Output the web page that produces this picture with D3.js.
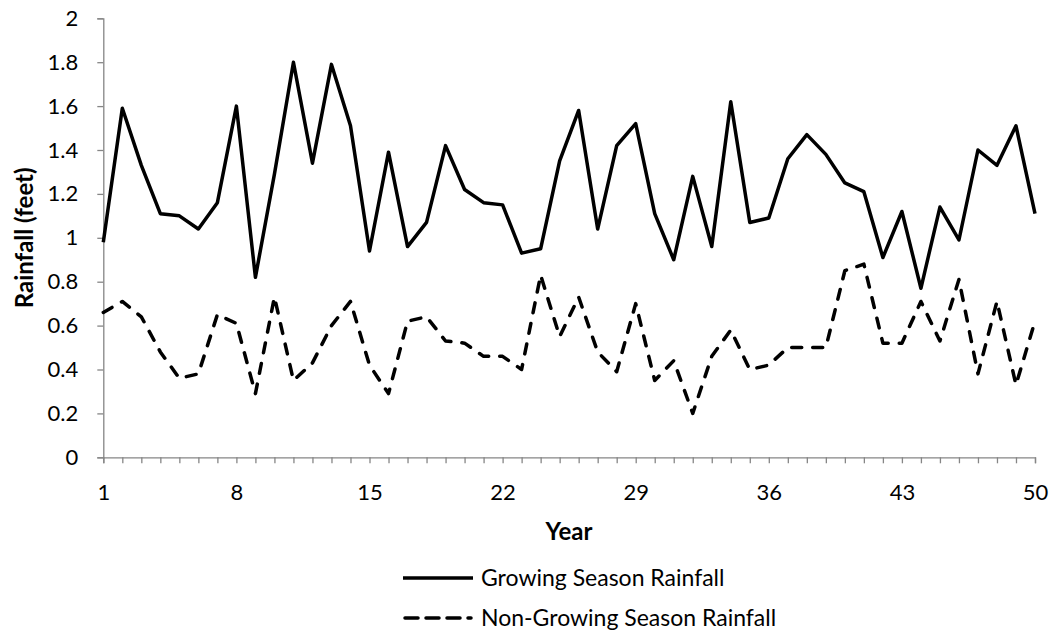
<!DOCTYPE html>
<html>
<head>
<meta charset="utf-8">
<script src="https://cdn.jsdelivr.net/npm/d3@7"></script>
<style>
  html, body { margin: 0; padding: 0; background: #fff; }
  svg { display: block; font-family: Lato, "Open Sans", sans-serif; }
</style>
</head>
<body>
<svg id="chart" width="1053" height="632"></svg>
<script>
// Annual rainfall over 50 years, split by season
const years = d3.range(1, 51);
const growingSeason = [
  0.98, 1.59, 1.33, 1.11, 1.10, 1.04, 1.16, 1.60, 0.82, 1.29,
  1.80, 1.34, 1.79, 1.51, 0.94, 1.39, 0.96, 1.07, 1.42, 1.22,
  1.16, 1.15, 0.93, 0.95, 1.35, 1.58, 1.04, 1.42, 1.52, 1.11,
  0.90, 1.28, 0.96, 1.62, 1.07, 1.09, 1.36, 1.47, 1.38, 1.25,
  1.21, 0.91, 1.12, 0.77, 1.14, 0.99, 1.40, 1.33, 1.51, 1.11
];
const nonGrowingSeason = [
  0.66, 0.71, 0.64, 0.48, 0.36, 0.38, 0.65, 0.61, 0.29, 0.73,
  0.35, 0.43, 0.60, 0.71, 0.42, 0.29, 0.62, 0.64, 0.53, 0.52,
  0.46, 0.46, 0.40, 0.83, 0.55, 0.73, 0.48, 0.39, 0.70, 0.35,
  0.44, 0.20, 0.46, 0.58, 0.40, 0.42, 0.50, 0.50, 0.50, 0.85,
  0.88, 0.52, 0.52, 0.71, 0.53, 0.81, 0.38, 0.71, 0.33, 0.62
];
const yTicks = [0, 0.2, 0.4, 0.6, 0.8, 1, 1.2, 1.4, 1.6, 1.8, 2];
const xTickLabels = [1, 8, 15, 22, 29, 36, 43, 50];
const seriesNames = ["Growing Season Rainfall", "Non-Growing Season Rainfall"];

const svg = d3.select("#chart");
const plot = { left: 103.3, right: 1035, top: 18.3, bottom: 457.3 };
const axisColor = "#868686";
const tickFont = "22px";
const seriesWidth = 3.5;

const x = d3.scaleLinear().domain([1, 50]).range([plot.left, plot.right]);
const y = d3.scaleLinear().domain([0, 2]).range([plot.bottom, plot.top]);

// Y axis
const yAxis = d3.axisLeft(y).tickValues(yTicks).tickSize(6).tickPadding(19)
  .tickFormat(d => d3.format("~g")(d));
const gy = svg.append("g").attr("transform", `translate(${plot.left},0)`).call(yAxis);
gy.select(".domain").attr("stroke", axisColor).attr("stroke-width", 1.3);
gy.selectAll(".tick line").attr("stroke", axisColor).attr("stroke-width", 1.3);
gy.selectAll(".tick text").attr("fill", "#000").style("font-size", tickFont)
  .style("font-family", "Lato, sans-serif");

// X axis: a tick for every year, labels every seventh
const xAxis = d3.axisBottom(x).tickValues(years).tickSize(6).tickPadding(21)
  .tickFormat(d => xTickLabels.includes(d) ? d : "");
const gx = svg.append("g").attr("transform", `translate(0,${plot.bottom})`).call(xAxis);
gx.select(".domain").attr("stroke", axisColor).attr("stroke-width", 1.3);
gx.selectAll(".tick line").attr("stroke", axisColor).attr("stroke-width", 1.3);
gx.selectAll(".tick text").attr("fill", "#000").style("font-size", tickFont)
  .style("font-family", "Lato, sans-serif");

// Axis titles
svg.append("text")
  .attr("x", 569).attr("y", 540)
  .attr("text-anchor", "middle")
  .style("font-size", "24px").style("font-weight", "bold")
  .text("Year");
svg.append("text")
  .attr("transform", `translate(33,${(plot.top + plot.bottom) / 2}) rotate(-90)`)
  .attr("text-anchor", "middle")
  .style("font-size", "24px").style("font-weight", "bold")
  .text("Rainfall (feet)");

// Series lines
const line = d3.line().x((d, i) => x(years[i])).y(d => y(d));
svg.append("path").datum(growingSeason)
  .attr("d", line).attr("fill", "none")
  .attr("stroke", "#000").attr("stroke-width", seriesWidth)
  .attr("stroke-linejoin", "round");
svg.append("path").datum(nonGrowingSeason)
  .attr("d", line).attr("fill", "none")
  .attr("stroke", "#000").attr("stroke-width", seriesWidth)
  .attr("stroke-dasharray", "10,11").attr("stroke-linecap", "round")
  .attr("stroke-linejoin", "round");

// Legend
const legend = svg.append("g");
const legendRows = [{ name: seriesNames[0], dash: null, y: 578 },
                    { name: seriesNames[1], dash: "13,8", y: 618 }];
legendRows.forEach(r => {
  legend.append("line")
    .attr("x1", r.dash ? 405 : 403).attr("x2", r.dash ? 471 : 473)
    .attr("y1", r.y).attr("y2", r.y)
    .attr("stroke", "#000").attr("stroke-width", seriesWidth)
    .attr("stroke-linecap", r.dash ? "round" : "butt")
    .attr("stroke-dasharray", r.dash);
  legend.append("text")
    .attr("x", 481).attr("y", r.y).attr("dy", "0.36em")
    .style("font-size", "23px")
    .text(r.name);
});
</script>
</body>
</html>
